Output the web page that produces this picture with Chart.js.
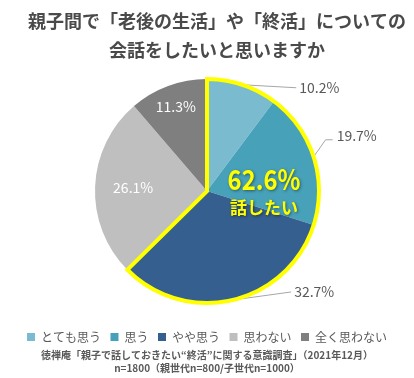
<!DOCTYPE html>
<html>
<head>
<meta charset="utf-8">
<script src="https://cdn.jsdelivr.net/npm/chart.js@4"></script>
<style>
  html, body { margin: 0; padding: 0; background: #fff; }
  #wrap { width: 414px; height: 378px; }
</style>
</head>
<body>
<div id="wrap"><canvas id="pieChart" width="414" height="378"></canvas></div>
<script>
// data
const categories = ['とても思う', '思う', 'やや思う', '思わない', '全く思わない'];
const values = [10.2, 19.7, 32.7, 26.1, 11.3];
const sliceColors = ['#7bbbd0', '#47a1b9', '#355f8e', '#bfbfbf', '#7f7f7f'];
const titleLines = ['親子間で「老後の生活」や「終活」についての', '会話をしたいと思いますか'];
const sourceLines = ['徳禅庵「親子で話しておきたい“終活”に関する意識調査」（2021年12月）', 'n=1800（親世代n=800/子世代n=1000）'];
const highlightCount = 3;          // first three slices are framed in yellow
const highlightLabel = '話したい';

const jpFont = "'Noto Sans CJK JP', 'Noto Sans', sans-serif";

// leader line / label offsets (from the slice edge point) for outside labels
const outsideLabels = {
    0: { path: [[54, 3]], text: [57, 3] },
    1: { path: [[12, -17], [19, -17]], text: [23, -21] },
    2: { path: [[58, -8]], text: [61, -8] }
};
// radius fractions for labels drawn inside the slice
const insideLabels = { 3: 0.66, 4: 0.8 };

const pct = v => v.toFixed(1) + '%';

const labelPlugin = {
    id: 'labelPlugin',
    afterLayout(chart) {
        // title sits a little right of the pie in the original
        if (chart.titleBlock) {
            chart.titleBlock.left += 10;
            chart.titleBlock.right += 10;
        }
    },
    afterDatasetsDraw(chart) {
        const ctx = chart.ctx;
        const arcs = chart.getDatasetMeta(0).data;
        const geo = arcs.map(a => a.getProps(['x', 'y', 'startAngle', 'endAngle', 'outerRadius'], true));

        // leader lines first (they sit under the yellow frame)
        ctx.save();
        ctx.strokeStyle = '#a6a6a6';
        ctx.lineWidth = 1;
        Object.keys(outsideLabels).forEach(k => {
            const g = geo[k];
            const mid = (g.startAngle + g.endAngle) / 2;
            const ex = g.x + Math.cos(mid) * g.outerRadius;
            const ey = g.y + Math.sin(mid) * g.outerRadius;
            ctx.beginPath();
            ctx.moveTo(ex, ey);
            outsideLabels[k].path.forEach(p => ctx.lineTo(ex + p[0], ey + p[1]));
            ctx.stroke();
        });
        ctx.restore();

        // yellow frame round the "want to talk" group
        const g0 = geo[0];
        const gEnd = geo[highlightCount - 1];
        ctx.save();
        ctx.strokeStyle = '#ffff00';
        ctx.lineWidth = 4;
        ctx.lineJoin = 'miter';
        ctx.beginPath();
        ctx.moveTo(g0.x, g0.y);
        ctx.arc(g0.x, g0.y, g0.outerRadius, g0.startAngle, gEnd.endAngle);
        ctx.closePath();
        ctx.stroke();
        ctx.restore();

        // percentage labels
        ctx.save();
        ctx.font = '14px ' + jpFont;
        ctx.textBaseline = 'middle';
        geo.forEach((g, i) => {
            const mid = (g.startAngle + g.endAngle) / 2;
            if (outsideLabels[i]) {
                const ex = g.x + Math.cos(mid) * g.outerRadius;
                const ey = g.y + Math.sin(mid) * g.outerRadius;
                ctx.fillStyle = '#595959';
                ctx.textAlign = 'left';
                ctx.fillText(pct(values[i]), ex + outsideLabels[i].text[0], ey + outsideLabels[i].text[1]);
            } else {
                const r = g.outerRadius * insideLabels[i];
                ctx.fillStyle = '#ffffff';
                ctx.textAlign = 'center';
                ctx.fillText(pct(values[i]), g.x + Math.cos(mid) * r, g.y + Math.sin(mid) * r);
            }
        });

        // group total in the middle of the framed part
        const total = values.slice(0, highlightCount).reduce((a, b) => a + b, 0);
        const cx = g0.x + 57, cy = g0.y - 12;
        ctx.fillStyle = '#ffff00';
        ctx.textAlign = 'center';
        ctx.shadowColor = 'rgba(0,0,0,0.45)';
        ctx.shadowBlur = 3;
        ctx.shadowOffsetX = 1;
        ctx.shadowOffsetY = 1;
        ctx.font = 'bold 28px ' + jpFont;
        ctx.save();
        ctx.translate(cx, cy);
        ctx.scale(0.85, 1);
        ctx.fillText(pct(total), 0, 0);
        ctx.restore();
        ctx.font = 'bold 17px ' + jpFont;
        ctx.fillText(highlightLabel, cx, cy + 28);
        ctx.restore();
    }
};

new Chart(document.getElementById('pieChart'), {
    type: 'pie',
    data: {
        labels: categories,
        datasets: [{
            data: values,
            backgroundColor: sliceColors,
            borderWidth: 0,
            radius: 112
        }]
    },
    options: {
        responsive: false,
        animation: false,
        plugins: {
            title: {
                display: true,
                text: titleLines,
                color: '#4a4a4a',
                font: { family: jpFont, size: 18, weight: 'bold', lineHeight: 1.6 },
                padding: { top: 7, bottom: -4 }
            },
            legend: {
                position: 'bottom',
                labels: {
                    color: '#595959',
                    font: { family: jpFont, size: 12 },
                    boxWidth: 8,
                    boxHeight: 8,
                    padding: 9.5
                }
            },
            subtitle: {
                display: true,
                position: 'bottom',
                text: sourceLines,
                color: '#595959',
                font: { family: jpFont, size: 10, weight: 'bold', lineHeight: 1.3 },
                padding: { top: -4, bottom: 3 }
            },
            tooltip: { enabled: false }
        }
    },
    plugins: [labelPlugin]
});
</script>
</body>
</html>
